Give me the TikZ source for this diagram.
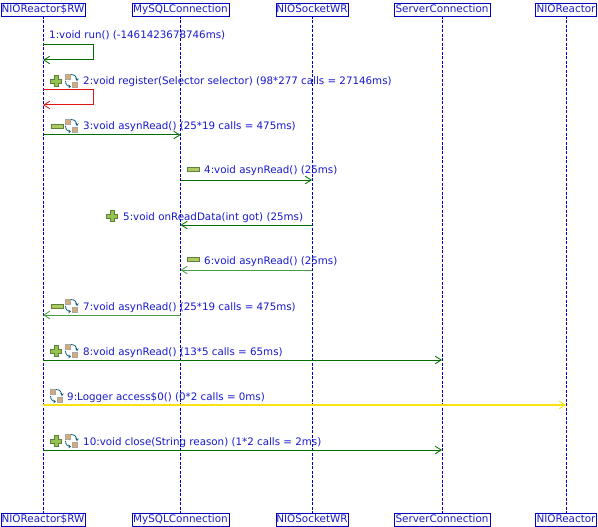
\documentclass[tikz,border=0pt]{standalone}
\usepackage{fontspec}
\setmainfont{DejaVu Sans}
\usetikzlibrary{arrows.meta}
\definecolor{txtblue}{RGB}{25,25,205}
\definecolor{boxblue}{RGB}{0,0,190}
\definecolor{dgreen}{RGB}{0,110,0}
\definecolor{lgreen}{RGB}{70,155,70}
\definecolor{dred}{RGB}{225,20,20}
\definecolor{yel}{RGB}{250,225,20}
\definecolor{plusg}{RGB}{150,195,80}
\definecolor{plusedge}{RGB}{90,130,60}
\definecolor{minusg}{RGB}{175,200,95}
\definecolor{tanbox}{RGB}{215,170,120}
\definecolor{recarc}{RGB}{20,95,125}
\tikzset{
 x=1pt,y=-1pt,
 head/.style={draw=boxblue,line width=0.9pt,text=txtblue,font=\fontsize{10.4}{12}\selectfont,inner sep=0pt,minimum height=13pt,anchor=center,fill=white,text height=8pt,text depth=2pt},
 life/.style={draw=boxblue,line width=1pt,dash pattern=on 3pt off 1.5pt},
 msg/.style={text=txtblue,font=\fontsize{10.3}{12}\selectfont,inner sep=0pt,anchor=west,text height=8pt,text depth=2pt,yshift=-1pt},
 arr/.style={line width=1pt,-{Straight Barb[length=6pt,width=7.5pt,line width=0.8pt]}},
 call/.style={arr,draw=dgreen},
 ret/.style={arr,draw=lgreen,line width=0.8pt},
 bad/.style={arr,draw=dred},
 sys/.style={arr,draw=yel,line width=1.15pt},
 pics/plusicon/.style={code={
   \fill[plusg,draw=plusedge,line width=0.4pt] (-2,-5.5)--(2,-5.5)--(2,-2)--(5.5,-2)--(5.5,2)--(2,2)--(2,5.5)--(-2,5.5)--(-2,2)--(-5.5,2)--(-5.5,-2)--(-2,-2)--cycle;}},
 pics/minusicon/.style={code={
   \fill[minusg,draw=plusedge,line width=0.4pt] (-6,-1.8)rectangle(6,1.8);}},
 pics/recicon/.style={code={
   \fill[tanbox,draw=black!35,line width=0.3pt] (-6,-6.5)rectangle(-1,-1.5);
   \fill[tanbox,draw=black!35,line width=0.3pt] (1,1.5)rectangle(6,6.5);
   \draw[recarc,line width=0.8pt,-{Stealth[length=2.5pt,width=3.5pt]}] (-5.5,0) .. controls (-5.5,3.5) and (-3,5.5) .. (0,5.5);
   \draw[recarc,line width=0.8pt,-{Stealth[length=2.5pt,width=3.5pt]}] (0,-6.5) .. controls (3.5,-6.5) and (6,-4) .. (6,0);}}
}
\begin{document}
\begin{tikzpicture}
\useasboundingbox (0,0) rectangle (598,527);
\fill[white] (0,0) rectangle (598,527);
\coordinate (ta) at (43,16); \coordinate (tb) at (180.5,16); \coordinate (tc) at (312,16); \coordinate (td) at (442,16); \coordinate (te) at (566,16);
\coordinate (ba) at (43,513); \coordinate (bb) at (180.5,513); \coordinate (bc) at (312,513); \coordinate (bd) at (442,513); \coordinate (be) at (566,513);
\draw[life] (ta)--(ba); \draw[life] (tb)--(bb); \draw[life] (tc)--(bc); \draw[life] (td)--(bd); \draw[life] (te)--(be);
\node[head,minimum width=84pt] (ha) at (43,9.5) {NIOReactor\$RW};
\node[head,minimum width=97pt] (hb) at (180.5,9.5) {MySQLConnection};
\node[head,minimum width=72pt] (hc) at (312,9.5) {NIOSocketWR};
\node[head,minimum width=96pt] (hd) at (442,9.5) {ServerConnection};
\node[head,minimum width=61pt] (he) at (566,9.5) {NIOReactor};
\node[head,minimum width=84pt] (fa) at (43,519.5) {NIOReactor\$RW};
\node[head,minimum width=97pt] (fb) at (180.5,519.5) {MySQLConnection};
\node[head,minimum width=72pt] (fc) at (312,519.5) {NIOSocketWR};
\node[head,minimum width=96pt] (fd) at (442,519.5) {ServerConnection};
\node[head,minimum width=61pt] (fe) at (566,519.5) {NIOReactor};
\coordinate (s1a) at (43,45); \coordinate (s1b) at (93,45); \coordinate (s1c) at (93,60); \coordinate (s1d) at (43,60);
\draw[call] (s1a)--(s1b)--(s1c)--(s1d);
\coordinate (s2a) at (43,90); \coordinate (s2b) at (93,90); \coordinate (s2c) at (93,105); \coordinate (s2d) at (43,105);
\draw[bad] (s2a)--(s2b)--(s2c)--(s2d);
\coordinate (m3a) at (43,135); \coordinate (m3b) at (180.5,135); \draw[call] (m3a)--(m3b);
\coordinate (m4a) at (180.5,180); \coordinate (m4b) at (312,180); \draw[call] (m4a)--(m4b);
\coordinate (m5a) at (312,225); \coordinate (m5b) at (180.5,225); \draw[call] (m5a)--(m5b);
\coordinate (m6a) at (312,270); \coordinate (m6b) at (180.5,270); \draw[ret] (m6a)--(m6b);
\coordinate (m7a) at (180.5,315); \coordinate (m7b) at (43,315); \draw[ret] (m7a)--(m7b);
\coordinate (m8a) at (43,360); \coordinate (m8b) at (442,360); \draw[call] (m8a)--(m8b);
\coordinate (m9a) at (43,405); \coordinate (m9b) at (566,405); \draw[sys] (m9a)--(m9b);
\coordinate (m10a) at (43,450); \coordinate (m10b) at (442,450); \draw[call] (m10a)--(m10b);
\node[msg] (l1) at (49,35) {1:void run() (-1461423678746ms)};
\pic at (56,81) {plusicon}; \pic at (71,81) {recicon};
\node[msg] (l2) at (83,81) {2:void register(Selector selector) (98*277 calls = 27146ms)};
\pic at (57,126) {minusicon}; \pic at (71,126) {recicon};
\node[msg] (l3) at (83,126) {3:void asynRead() (25*19 calls = 475ms)};
\pic at (193,169) {minusicon};
\node[msg] (l4) at (204,170) {4:void asynRead() (25ms)};
\pic at (112,216) {plusicon};
\node[msg] (l5) at (123,216) {5:void onReadData(int got) (25ms)};
\pic at (193,259) {minusicon};
\node[msg] (l6) at (204,260) {6:void asynRead() (25ms)};
\pic at (57,306) {minusicon}; \pic at (71,306) {recicon};
\node[msg] (l7) at (83,306) {7:void asynRead() (25*19 calls = 475ms)};
\pic at (56,351) {plusicon}; \pic at (71,351) {recicon};
\node[msg] (l8) at (83,351) {8:void asynRead() (13*5 calls = 65ms)};
\pic at (56,396) {recicon};
\node[msg] (l9) at (67,396) {9:Logger access\$0() (0*2 calls = 0ms)};
\pic at (56,441) {plusicon}; \pic at (71,441) {recicon};
\node[msg] (l10) at (83,441) {10:void close(String reason) (1*2 calls = 2ms)};
\end{tikzpicture}
\end{document}
